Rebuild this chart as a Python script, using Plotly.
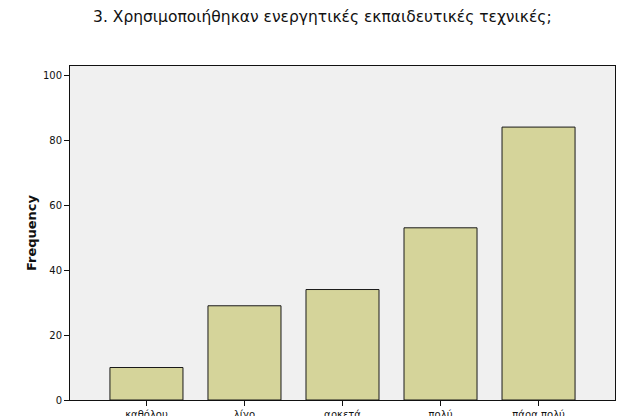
import plotly.graph_objects as go

categories = ["καθόλου", "λίγο", "αρκετά", "πολύ", "πάρα πολύ"]
frequency = [10, 29, 34, 53, 84]
y_ticks = [0, 20, 40, 60, 80, 100]
title_text = "3. Χρησιμοποιήθηκαν ενεργητικές εκπαιδευτικές τεχνικές;"

fig = go.Figure()
fig.add_trace(go.Bar(
    x=categories, y=frequency,
    marker=dict(color="#D5D49A", line=dict(color="#1a1a1a", width=1)),
    width=0.745,
))

fig.update_layout(
    width=620, height=408,
    margin=dict(l=62, r=13, t=58, b=16),
    paper_bgcolor="white",
    plot_bgcolor="#F0F0F0",
    showlegend=False,
    font=dict(family="DejaVu Sans", color="#111111"),
    title=dict(text=title_text, x=0.507, xanchor="center", y=0.978, yanchor="middle",
               font=dict(size=15.5, color="#111111")),
)
fig.update_xaxes(
    type="category", range=[-0.78, 4.78], automargin=False,
    showline=True, linecolor="#111111", linewidth=1, mirror=True,
    ticks="outside", ticklen=5, tickcolor="#111111",
    tickfont=dict(size=10), showgrid=False,
)
fig.update_yaxes(
    range=[0, 102.8], tickvals=y_ticks, automargin=False,
    showline=True, linecolor="#111111", linewidth=1, mirror=True,
    ticks="outside", ticklen=5, tickcolor="#111111",
    tickfont=dict(size=10), showgrid=False, zeroline=False,
    title=dict(text="<b>Frequency</b>", font=dict(size=13), standoff=3),
)

fig.write_html("out.html")
